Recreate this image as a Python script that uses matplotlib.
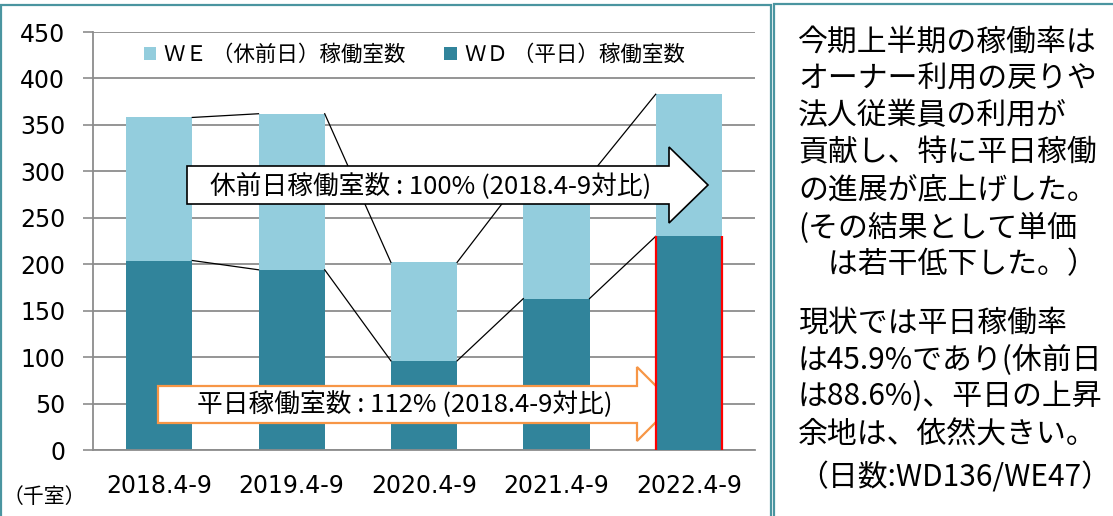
import matplotlib
matplotlib.use("Agg")
import matplotlib.pyplot as plt
from matplotlib.patches import Polygon, Rectangle

plt.rcParams['font.family'] = ['Noto Sans CJK JP', 'DejaVu Sans']

# データ（千室）
periods = ['2018.4-9', '2019.4-9', '2020.4-9', '2021.4-9', '2022.4-9']
wd_rooms = [204, 194, 96, 163, 230]   # 平日稼働室数
we_rooms = [154, 168, 106, 132, 153]  # 休前日稼働室数
we_label = 'ＷＥ （休前日）稼働室数'
wd_label = 'ＷＤ （平日）稼働室数'
y_ticks = [0, 50, 100, 150, 200, 250, 300, 350, 400, 450]

note_lines = [
    '今期上半期の稼働率は',
    'オーナー利用の戻りや',
    '法人従業員の利用が',
    '貢献し、特に平日稼働',
    'の進展が底上げした。',
    '(その結果として単価',
    '　は若干低下した。）',
    '現状では平日稼働率',
    'は45.9%であり(休前日',
    'は88.6%)、平日の上昇',
    '余地は、依然大きい。',
    '（日数:WD136/WE47）',
]
note_y = [42, 79, 116, 153, 190, 228, 265, 323, 360, 397, 435, 478]

c_we = '#93CDDD'
c_wd = '#31849B'
c_grid = '#8C8C8C'
c_frame = '#4A95A0'

W, H = 1113, 516
fig = plt.figure(figsize=(W / 100, H / 100), dpi=100)
ax = fig.add_axes([93 / W, 1 - 450 / H, (755 - 93) / W, (450 - 32) / H])

x = list(range(len(periods)))
bw = 0.5
ax.bar(x, wd_rooms, width=bw, color=c_wd, label=wd_label, zorder=2)
ax.bar(x, we_rooms, width=bw, bottom=wd_rooms, color=c_we, label=we_label, zorder=2)

# 区分線
totals = [a + b for a, b in zip(wd_rooms, we_rooms)]
for series in (wd_rooms, totals):
    for i in range(len(x) - 1):
        ax.plot([x[i] + bw / 2, x[i + 1] - bw / 2], [series[i], series[i + 1]],
                color='black', lw=0.9, zorder=3)

ax.set_xlim(-0.5, len(x) - 0.5)
ax.set_ylim(0, 450)
ax.set_yticks(y_ticks)
ax.set_xticks(x)
ax.set_xticklabels(periods)
ax.set_yticklabels([str(v) for v in y_ticks])
for lab in ax.get_xticklabels() + ax.get_yticklabels():
    lab.set_fontfamily('DejaVu Sans')
    lab.set_fontsize(17)
ax.tick_params(axis='y', length=7, width=1.2, color=c_grid, pad=13)
ax.tick_params(axis='x', length=0, pad=17)
ax.yaxis.grid(True, color=c_grid, lw=1.3)
ax.set_axisbelow(True)
for s in ('top', 'right'):
    ax.spines[s].set_visible(False)
for s in ('left', 'bottom'):
    ax.spines[s].set_color(c_grid)
    ax.spines[s].set_linewidth(1.3)


def px(xp):
    return (xp - 93) / 132.4 - 0.5


def py(yp):
    return (450 - yp) / (418 / 450)


def arrow(x0, x1, xt, yb0, yb1, yh0, yh1, ec, lw, z):
    pts = [(px(x0), py(yb0)), (px(x1), py(yb0)), (px(x1), py(yh0)), (px(xt), py((yh0 + yh1) / 2)),
           (px(x1), py(yh1)), (px(x1), py(yb1)), (px(x0), py(yb1))]
    ax.add_patch(Polygon(pts, closed=True, facecolor='white', edgecolor=ec, lw=lw, zorder=z,
                         clip_on=False))


# 平日の矢印
arrow(158, 637, 674, 386, 423, 367, 441, '#F79646', 1.6, 5)
ax.text(px(405), py(405), '平日稼働室数 : 112% (2018.4-9対比)', ha='center', va='center',
        fontsize=18.5, zorder=6)

# 2022年の平日棒（赤枠）
ax.bar([x[-1]], [wd_rooms[-1]], width=bw, color=c_wd, zorder=7)
ax.vlines([x[-1] - bw / 2, x[-1] + bw / 2], 0, wd_rooms[-1], color='#FF0000', lw=1.6, zorder=8)

# 休前日の矢印
arrow(187, 669, 708, 166, 204, 147, 223, 'black', 1.2, 9)
ax.text(px(431), py(186), '休前日稼働室数 : 100% (2018.4-9対比)', ha='center', va='center',
        fontsize=18.5, zorder=10)

h, l = ax.get_legend_handles_labels()
ax.legend([h[1], h[0]], [l[1], l[0]], ncol=2, loc='center',
          bbox_to_anchor=(414 / W, 1 - 55 / H), bbox_transform=fig.transFigure,
          frameon=False, fontsize=15.5, handlelength=0.6, handleheight=0.6,
          handletextpad=0.35, columnspacing=1.8)

fig.text(44 / W, 1 - 497 / H, '（千室）', ha='center', va='center', fontsize=15)

# 枠
fig.patches.append(Rectangle((1 / W, -0.1), 770 / W, 1.1 - 5 / H, transform=fig.transFigure,
                             fill=False, edgecolor=c_frame, lw=1.6))
fig.patches.append(Rectangle((774 / W, -0.1), 0.5, 1.1 - 4 / H, transform=fig.transFigure,
                             fill=False, edgecolor=c_frame, lw=1.6))

for t, yy in zip(note_lines, note_y):
    fig.text(798 / W, 1 - yy / H, t, ha='left', va='center', fontsize=21.5)

fig.savefig('out.png', dpi=100)
